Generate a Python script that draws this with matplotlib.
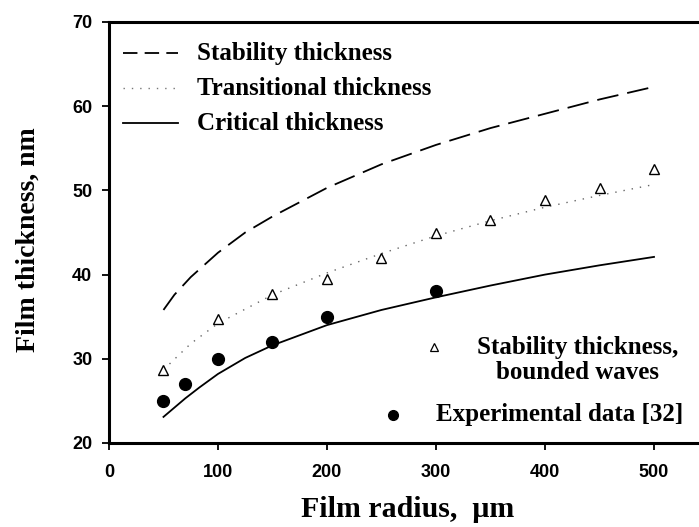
import matplotlib.pyplot as plt

# model curves, film radius in um
r_stab = [50, 60, 75, 100, 125, 150, 200, 250, 300, 350, 400, 450, 500]
h_stab = [35.8, 37.6, 39.7, 42.6, 45.0, 46.9, 50.3, 53.1, 55.4, 57.4, 59.1, 60.8, 62.3]

r_trans = [50, 75, 100, 150, 200, 250, 300, 350, 400, 450, 500]
h_trans = [28.7, 31.8, 34.2, 37.6, 40.2, 42.5, 44.6, 46.4, 48.0, 49.4, 50.7]

r_crit = [50, 60, 70, 83, 100, 125, 150, 200, 250, 300, 350, 400, 450, 500]
h_crit = [23.1, 24.2, 25.3, 26.6, 28.2, 30.1, 31.6, 34.0, 35.8, 37.3, 38.7, 40.0, 41.1, 42.1]

# bounded-wave stability thickness points
bounded_r = [50, 100, 150, 200, 250, 300, 350, 400, 450, 500]
bounded_h = [28.7, 34.7, 37.7, 39.5, 42.0, 44.9, 46.5, 48.9, 50.3, 52.5]

# experimental data [32]
exp_r = [50, 70, 100, 150, 200, 300]
exp_h = [25.0, 27.0, 30.0, 32.0, 35.0, 38.0]

serif = 'Liberation Serif'
sans = 'Liberation Sans'
DASH = (12, 5)
DOT = (1, 5)

fig = plt.figure(figsize=(6.99, 5.27), dpi=100)
ax = fig.add_axes([0.1559, 0.1594, 0.8577, 0.7989])

ax.plot(r_stab, h_stab, color='black', lw=1.3, dashes=DASH)
ax.plot(r_trans, h_trans, color='#666666', lw=1.0, dashes=DOT)
ax.plot(r_crit, h_crit, color='black', lw=1.3)
ax.plot(bounded_r, bounded_h, ls='none', marker='^', mfc='white', mec='black', ms=7.5, mew=1.0)
ax.plot(exp_r, exp_h, ls='none', marker='o', color='black', ms=8.5)

ax.set_xlim(0, 550)
ax.set_ylim(20, 70)
ax.set_xticks([0, 100, 200, 300, 400, 500])
ax.set_yticks([20, 30, 40, 50, 60, 70])
for lab in ax.get_xticklabels() + ax.get_yticklabels():
    lab.set_fontfamily(sans)
    lab.set_fontweight('bold')
    lab.set_fontsize(13)
ax.tick_params(direction='out', width=1.3, length=5)
ax.tick_params(axis='x', pad=10)
ax.tick_params(axis='y', pad=7)
for s in ax.spines.values():
    s.set_linewidth(2.2)

ax.set_xlabel('Film radius,  \u03bcm', fontfamily=serif, fontweight='bold', fontsize=21.5)
ax.xaxis.set_label_coords(0.498, -0.157)
ax.xaxis.label.set_va('center')
ax.set_ylabel('Film thickness, nm', fontfamily=serif, fontweight='bold', fontsize=20)
ax.yaxis.set_label_coords(-0.135, 0.482)
ax.yaxis.label.set_va('center')

txt = dict(fontfamily=serif, fontweight='bold', fontsize=18, transform=ax.transAxes, va='center')

# key for the curves, upper left
keys = [('Stability thickness', dict(color='black', lw=1.3, dashes=(8, 4))),
        ('Transitional thickness', dict(color='#777777', lw=1.0, dashes=DOT)),
        ('Critical thickness', dict(color='black', lw=1.3))]
for (label, style), ky in zip(keys, [0.926, 0.843, 0.760]):
    ax.plot([0.0234, 0.1151], [ky, ky], transform=ax.transAxes, clip_on=False, **style)
    ax.text(0.1468, ky, label, ha='left', **txt)

# key for the points, lower right
ax.plot([0.542], [0.228], transform=ax.transAxes, ls='none', marker='^', mfc='white',
        mec='black', ms=5.5, mew=0.9, clip_on=False)
ax.text(0.782, 0.198, 'Stability thickness,\nbounded waves', ha='center',
        multialignment='center', linespacing=1.1, **txt)
ax.plot([0.474], [0.0665], transform=ax.transAxes, ls='none', marker='o', color='black',
        ms=7, clip_on=False)
ax.text(0.545, 0.0665, 'Experimental data [32]', ha='left', **txt)

fig.savefig('out.png', dpi=100)
